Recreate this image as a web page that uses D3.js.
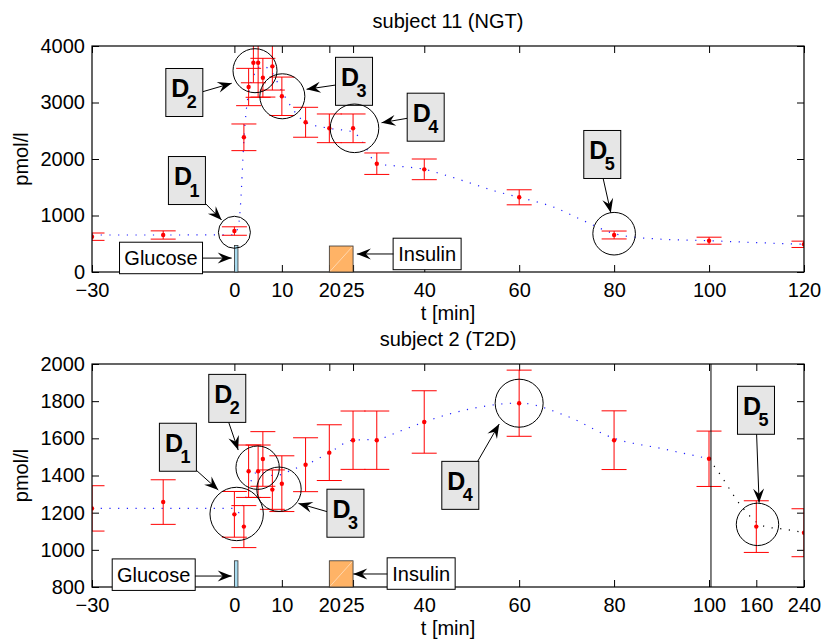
<!DOCTYPE html>
<html>
<head>
<meta charset="utf-8">
<script src="https://cdn.jsdelivr.net/npm/d3@7"></script>
<style>
  body { margin: 0; background: #fff; }
  svg { font-family: "Liberation Sans", Arial, Helvetica, sans-serif; }
</style>
</head>
<body>
<svg id="chart" width="824" height="644"></svg>
<script>
// subject 11 (NGT) - measured means and errors
const timeNGT = [-30, -15, 0, 2, 3, 4, 5, 6, 8, 10, 15, 20, 25, 30, 40, 60, 80, 100, 120];
const meanNGT = [625, 655, 725, 2384, 3274, 3704, 3704, 3439, 3640, 3110, 2650, 2543, 2543, 1917, 1817, 1322, 655, 554, 490];
const errNGT  = [65, 73, 75, 236, 330, 355, 612, 343, 420, 340, 265, 254, 254, 190, 183, 133, 70, 62, 56];
// model curve
const fitTimeNGT = [-30, -15, 0, 1, 1.5, 2, 2.5, 3, 4, 5, 6, 8, 10, 12, 15, 20, 25, 27, 30, 35, 40, 45, 50, 55, 60, 67, 74, 80, 88, 100, 110, 120];
const fitNGT     = [655, 655, 660, 900, 1500, 2340, 2860, 3180, 3460, 3620, 3640, 3520, 3200, 2920, 2650, 2543, 2480, 2300, 1917, 1870, 1817, 1700, 1566, 1430, 1322, 1156, 891, 680, 590, 554, 520, 490];
const ticksXNGT = [-30, 0, 10, 20, 25, 40, 60, 80, 100, 120];
const ticksYNGT = [0, 1000, 2000, 3000, 4000];

// subject 2 (T2D)
const timeT2D = [-30, -15, 0, 2, 3, 5, 6, 8, 10, 15, 20, 25, 30, 40, 60, 80, 100, 160, 240];
const meanT2D = [1223, 1257, 1191, 1125, 1423, 1423, 1489, 1324, 1356, 1458, 1523, 1590, 1590, 1688, 1789, 1590, 1490, 1125, 1092];
const errT2D  = [122, 120, 123, 113, 141, 141, 147, 106, 150, 145, 150, 157, 157, 168, 178, 158, 149, 139, 129];
const fitTimeT2D = [-30, -15, 0, 1, 2, 3, 4, 5, 6, 8, 10, 12, 15, 20, 25, 30, 35, 40, 50, 60, 70, 80, 90, 100];
const fitT2D     = [1223, 1223, 1223, 1200, 1250, 1330, 1400, 1420, 1415, 1400, 1405, 1430, 1457, 1523, 1590, 1595, 1640, 1688, 1760, 1790, 1720, 1600, 1545, 1490];
const tailTimeT2D = [100, 115, 140, 160, 175, 210, 240];
const tailT2D     = [1490, 1400, 1240, 1150, 1125, 1110, 1092];
const ticksXT2D = [-30, 0, 10, 20, 25, 40, 60, 80, 100, 160, 240];
const ticksYT2D = [800, 1000, 1200, 1400, 1600, 1800, 2000];

// callouts in data units: box centre, arrow start/end, circle centre
const calloutsNGT = [
  { n: '1', box: [-10, 1619], from: [-6, 1204], to: [-2.7, 920], ring: [0, 703], r: 16 },
  { n: '2', box: [-10.55, 3177], from: [-6.68, 3191], to: [-0.57, 3340], ring: [4.34, 3563], r: 22 },
  { n: '3', box: [25.2, 3375], from: [21.4, 3310], to: [15.2, 3234], ring: [10.1, 3110], r: 22.5 },
  { n: '4', box: [40.3, 2740], from: [36.4, 2720], to: [31.0, 2642], ring: [25.3, 2543], r: 24.3 },
  { n: '5', box: [77.5, 2080], from: [77.7, 1651], to: [79.3, 1050], ring: [80, 678], r: 21.3 }
];
const calloutsT2D = [
  { n: '1', box: [-11.9, 1552], from: [-8.1, 1430], to: [-3.4, 1322], ring: [0.48, 1193], r: 26.7 },
  { n: '2', box: [-1.5, 1815], from: [-1.2, 1686], to: [0.8, 1537], ring: [4.9, 1442], r: 21.7 },
  { n: '3', box: [23.4, 1197], from: [19.6, 1205], to: [13.5, 1250], ring: [9.4, 1326], r: 22.2 },
  { n: '4', box: [47.6, 1347], from: [51.3, 1478], to: [55.8, 1677], ring: [60, 1789], r: 24 },
  { n: '5', box: [159.6, 1751], from: [160.5, 1623], to: [164.7, 1254], ring: [162, 1137], r: 21.2 }
];

// glucose / insulin dose markers
const dosesNGT = [
  { name: 'Glucose', t0: 0, t1: 0.75, top: 470, box: [-15.46, 244], w: 83, from: [-6.68, 246], to: [-0.57, 246] },
  { name: 'Insulin', t0: 20, t1: 25, top: 460, box: [40.6, 315], w: 68, from: [33.5, 319], to: [25.8, 319] }
];
const dosesT2D = [
  { name: 'Glucose', t0: 0, t1: 0.75, top: 941, box: [-17, 865], w: 83, from: [-8.3, 859], to: [-0.57, 859] },
  { name: 'Insulin', t0: 20, t1: 25, top: 941, box: [39.35, 871], w: 68, from: [32.2, 870], to: [25.05, 870] }
];

const svg = d3.select('#chart');

function arrow(g, x1, y1, x2, y2) {
  g.append('line')
    .attr('x1', x1).attr('y1', y1).attr('x2', x2).attr('y2', y2)
    .attr('stroke', '#000').attr('stroke-width', 1);
  const a = Math.atan2(y2 - y1, x2 - x1) * 180 / Math.PI;
  g.append('path')
    .attr('d', 'M0,0L-14,-5.5L-9,0L-14,5.5Z')
    .attr('transform', `translate(${x2},${y2}) rotate(${a})`)
    .attr('fill', '#000');
}

function panel(p) {
  const x = p.x, y = p.y;
  const xl = x.range()[0], xr = x.range()[x.range().length - 1];
  const yb = y.range()[0], yt = y.range()[1];

  svg.append('clipPath').attr('id', p.id)
    .append('rect').attr('x', xl).attr('y', yt).attr('width', xr - xl).attr('height', yb - yt);

  const g = svg.append('g');

  // axes, ticks pointing inward
  g.append('g').attr('transform', `translate(0,${yb})`)
    .call(d3.axisBottom(x).tickValues(p.ticksX).tickSize(-7).tickSizeOuter(0).tickPadding(11));
  g.append('g').attr('transform', `translate(0,${yt})`)
    .call(d3.axisTop(x).tickValues(p.ticksX).tickSize(-7).tickSizeOuter(0).tickFormat(''));
  g.append('g').attr('transform', `translate(${xl},0)`)
    .call(d3.axisLeft(y).tickValues(p.ticksY).tickSize(-7).tickSizeOuter(0).tickPadding(7).tickFormat(d3.format('d')));
  g.append('g').attr('transform', `translate(${xr},0)`)
    .call(d3.axisRight(y).tickValues(p.ticksY).tickSize(-7).tickSizeOuter(0).tickFormat(''));
  g.selectAll('.domain').remove();
  g.selectAll('.tick line').attr('stroke', '#000');
  g.selectAll('.tick text').attr('font-size', 20).attr('fill', '#000');

  const plot = g.append('g').attr('clip-path', `url(#${p.id})`);

  const line = d3.line().x(d => x(d[0])).y(d => y(d[1])).curve(d3.curveMonotoneX);
  plot.append('path')
    .datum(d3.zip(p.fitTime, p.fit))
    .attr('d', line)
    .attr('fill', 'none').attr('stroke', '#2020ff').attr('stroke-width', 1.2)
    .attr('stroke-dasharray', '1.2,7.5');
  if (p.tailTime) {
    plot.append('path')
      .datum(d3.zip(p.tailTime, p.tail))
      .attr('d', line)
      .attr('fill', 'none').attr('stroke', '#000').attr('stroke-width', 1.2)
      .attr('stroke-dasharray', '1.2,7.5');
  }

  const bars = d3.zip(p.time, p.mean, p.err);
  const eb = plot.selectAll('g.eb').data(bars).join('g').attr('class', 'eb')
    .attr('stroke', '#ff0000').attr('stroke-width', 1);
  eb.append('line')
    .attr('x1', d => x(d[0])).attr('x2', d => x(d[0]))
    .attr('y1', d => y(d[1] + d[2])).attr('y2', d => y(d[1] - d[2]));
  eb.append('line')
    .attr('x1', d => x(d[0]) - 12.5).attr('x2', d => x(d[0]) + 12.5)
    .attr('y1', d => y(d[1] + d[2])).attr('y2', d => y(d[1] + d[2]));
  eb.append('line')
    .attr('x1', d => x(d[0]) - 12.5).attr('x2', d => x(d[0]) + 12.5)
    .attr('y1', d => y(d[1] - d[2])).attr('y2', d => y(d[1] - d[2]));
  plot.selectAll('circle.pt').data(bars).join('circle').attr('class', 'pt')
    .attr('cx', d => x(d[0])).attr('cy', d => y(d[1])).attr('r', 2.2).attr('fill', '#ff0000');

  if (p.breakAt !== undefined) {
    g.append('line')
      .attr('x1', x(p.breakAt)).attr('x2', x(p.breakAt))
      .attr('y1', yt).attr('y2', yb)
      .attr('stroke', '#000').attr('stroke-width', 1);
  }

  // frame
  g.append('rect').attr('x', xl).attr('y', yt).attr('width', xr - xl).attr('height', yb - yt)
    .attr('fill', 'none').attr('stroke', '#000').attr('stroke-width', 1.2);

  // dose bars
  p.doses.forEach(d => {
    g.append('rect')
      .attr('x', x(d.t0)).attr('y', y(d.top))
      .attr('width', x(d.t1) - x(d.t0)).attr('height', yb - y(d.top))
      .attr('fill', d.name === 'Glucose' ? '#a9dcf0' : '#ffb366')
      .attr('stroke', '#333').attr('stroke-width', 0.8);
    if (d.name === 'Insulin') {
      g.append('line')
        .attr('x1', x(d.t0) + 1).attr('y1', yb - 1).attr('x2', x(d.t1) - 1).attr('y2', y(d.top) + 1)
        .attr('stroke', '#ffe0c0').attr('stroke-width', 0.8);
    }
    const bx = x(d.box[0]), by = y(d.box[1]);
    g.append('rect').attr('x', bx - d.w / 2).attr('y', by - 16).attr('width', d.w).attr('height', 31.5)
      .attr('fill', '#fff').attr('stroke', '#000').attr('stroke-width', 1);
    g.append('text').attr('x', bx).attr('y', by + 7)
      .attr('text-anchor', 'middle').attr('font-size', 20).text(d.name);
    arrow(g, x(d.from[0]), y(d.from[1]), x(d.to[0]), y(d.to[1]));
  });

  // callouts
  p.callouts.forEach(c => {
    g.append('circle').attr('cx', x(c.ring[0])).attr('cy', y(c.ring[1])).attr('r', c.r)
      .attr('fill', 'none').attr('stroke', '#000').attr('stroke-width', 1);
    arrow(g, x(c.from[0]), y(c.from[1]), x(c.to[0]), y(c.to[1]));
    const left = x(c.box[0]) - 18.5, top = y(c.box[1]) - 24;
    g.append('rect').attr('x', left).attr('y', top).attr('width', 37).attr('height', 48)
      .attr('fill', '#e6e6e6').attr('stroke', '#000').attr('stroke-width', 1);
    g.append('text').attr('x', left + 5.5).attr('y', top + 28.5)
      .attr('font-size', 25).attr('font-weight', 'bold').text('D');
    g.append('text').attr('x', left + 21).attr('y', top + 40)
      .attr('font-size', 18).attr('font-weight', 'bold').text(c.n);
  });

  // titles and labels
  const cx = (xl + xr) / 2;
  svg.append('text').attr('x', cx).attr('y', yt - 18).attr('text-anchor', 'middle')
    .attr('font-size', 20).text(p.title);
  svg.append('text').attr('x', cx).attr('y', yb + 48).attr('text-anchor', 'middle')
    .attr('font-size', 20).text('t [min]');
  svg.append('text').attr('transform', `translate(28,${(yt + yb) / 2}) rotate(-90)`)
    .attr('text-anchor', 'middle').attr('font-size', 20).text('pmol/l');
}

panel({
  id: 'clipNGT', title: 'subject 11 (NGT)',
  x: d3.scaleLinear().domain([-30, 120]).range([92, 804]),
  y: d3.scaleLinear().domain([0, 4000]).range([272, 46]),
  ticksX: ticksXNGT, ticksY: ticksYNGT,
  time: timeNGT, mean: meanNGT, err: errNGT,
  fitTime: fitTimeNGT, fit: fitNGT,
  callouts: calloutsNGT, doses: dosesNGT
});

panel({
  id: 'clipT2D', title: 'subject 2 (T2D)',
  x: d3.scaleLinear().domain([-30, 100, 160, 240]).range([92, 709, 756.3, 804]),
  y: d3.scaleLinear().domain([800, 2000]).range([587, 364]),
  ticksX: ticksXT2D, ticksY: ticksYT2D,
  time: timeT2D, mean: meanT2D, err: errT2D,
  fitTime: fitTimeT2D, fit: fitT2D,
  tailTime: tailTimeT2D, tail: tailT2D, breakAt: 102.5,
  callouts: calloutsT2D, doses: dosesT2D
});
</script>
</body>
</html>
